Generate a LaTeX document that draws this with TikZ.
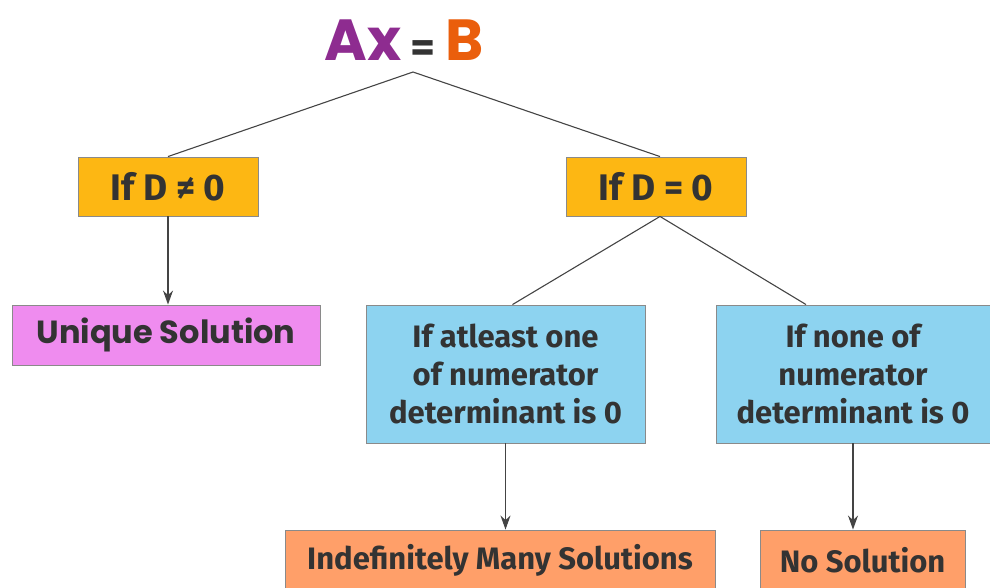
\documentclass[tikz,border=0pt]{standalone}
\usepackage{fontspec}
\setmainfont{Fira Sans}
\newfontfamily\roundfont{Poppins}
\usetikzlibrary{arrows.meta}

\definecolor{txtgray}{HTML}{333333}
\definecolor{edgegray}{HTML}{8A8A8A}
\definecolor{linegray}{HTML}{444444}
\definecolor{axpurple}{HTML}{8E2C90}
\definecolor{borange}{HTML}{EA5E0C}
\definecolor{condfill}{HTML}{FDB713}
\definecolor{uniqfill}{HTML}{EF8CEF}
\definecolor{casefill}{HTML}{8DD3F0}
\definecolor{resfill}{HTML}{FF9F69}

\begin{document}
\begin{tikzpicture}[x=1pt,y=-1pt,
 every node/.style={text=txtgray},
 box/.style={rectangle,draw=edgegray,line width=0.9pt,align=center,inner sep=0pt},
 cond/.style={box,fill=condfill,minimum width=180pt,minimum height=59pt,
  font=\bfseries\fontsize{37}{40}\selectfont},
 uniq/.style={box,fill=uniqfill,minimum width=308pt,minimum height=60pt,
  font=\roundfont\bfseries\fontsize{32}{36}\selectfont},
 case/.style={box,fill=casefill,minimum height=138pt,
  font=\bfseries\fontsize{31}{38}\selectfont},
 res/.style={box,fill=resfill,minimum height=60pt,
  font=\bfseries\fontsize{31}{34}\selectfont},
 link/.style={draw=linegray,line width=1.1pt},
 arr/.style={link,-{Stealth[length=14pt,width=10pt]}}]
\useasboundingbox (0,0) rectangle (990,588);
\clip (0,0) rectangle (990,588);
\node[font=\roundfont\bfseries\fontsize{58}{60}\selectfont] (eq) at (404,40)
 {{\color{axpurple}Ax}\,{\fontsize{36}{40}\selectfont =}\,{\color{borange}B}};
\coordinate (apex) at (413,72);
\node[cond] (dne) at (168,186.5) {If D ≠ 0};
\node[cond] (deq) at (656,186.5) {If D = 0};
\node[uniq] (unique) at (166,335) {Unique Solution};
\node[case,minimum width=279pt] (atleast) at (505.5,374)
 {If atleast one\\of numerator\\determinant is 0};
\node[case,minimum width=274pt] (nonezero) at (853,374)
 {If none of\\numerator\\determinant is 0};
\node[res,minimum width=430pt] (many) at (500,560) {Indefinitely Many Solutions};
\node[res,minimum width=205pt] (nosol) at (862.5,560) {No Solution};
\draw[link] (apex)--(dne.north) (apex)--([xshift=4pt]deq.north)
 ([xshift=4pt]deq.south)--([xshift=7pt]atleast.north)
 ([xshift=4pt]deq.south)--([xshift=-47pt]nonezero.north);
\draw[arr] (dne.south)--(dne.south|-unique.north);
\draw[arr] (atleast.south)--(atleast.south|-many.north);
\draw[arr] (nonezero.south)--(nonezero.south|-nosol.north);
\end{tikzpicture}
\end{document}
